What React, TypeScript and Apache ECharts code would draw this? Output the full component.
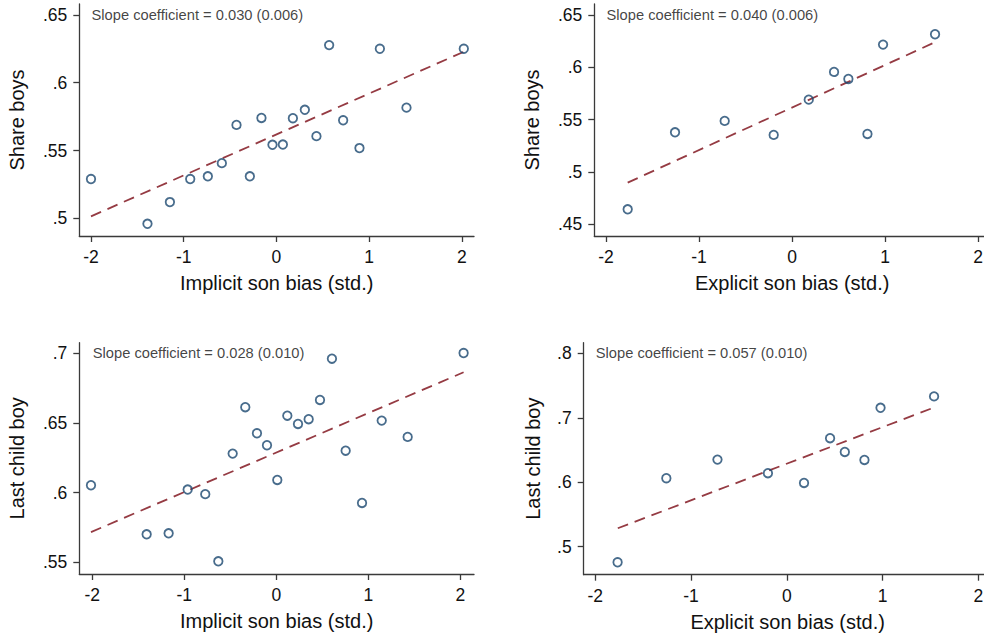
import React, { useEffect, useRef } from "react";
import * as echarts from "echarts";

// ---- data ----
const xTicks = [-2, -1, 0, 1, 2];
const yTicksShare1 = [0.5, 0.55, 0.6, 0.65];
const yTicksShare2 = [0.45, 0.5, 0.55, 0.6, 0.65];
const yTicksLast1 = [0.55, 0.6, 0.65, 0.7];
const yTicksLast2 = [0.5, 0.6, 0.7, 0.8];

const implicitX1 = [-2.0, -1.391, -1.149, -0.93, -0.74, -0.589, -0.431, -0.287, -0.162, -0.043, 0.069, 0.177, 0.306, 0.431, 0.568, 0.719, 0.895, 1.115, 1.402, 2.02];
const shareBoysImplicit = [0.529, 0.496, 0.512, 0.529, 0.531, 0.5407, 0.5689, 0.531, 0.574, 0.5542, 0.5544, 0.5738, 0.58, 0.5606, 0.6277, 0.5723, 0.5518, 0.625, 0.5816, 0.625];

const explicitX = [-1.767, -1.258, -0.724, -0.197, 0.18, 0.452, 0.606, 0.811, 0.979, 1.538];
const shareBoysExplicit = [0.4643, 0.5379, 0.5488, 0.5354, 0.5691, 0.5956, 0.5889, 0.5363, 0.6217, 0.6316];

const implicitX2 = [-2.014, -1.409, -1.17, -0.963, -0.772, -0.63, -0.474, -0.337, -0.21, -0.101, 0.011, 0.12, 0.236, 0.352, 0.475, 0.605, 0.754, 0.932, 1.146, 1.428, 2.036];
const lastBoyImplicit = [0.6053, 0.5701, 0.5708, 0.6022, 0.5989, 0.5507, 0.628, 0.6613, 0.6426, 0.634, 0.6091, 0.6552, 0.6493, 0.6527, 0.6665, 0.6961, 0.6301, 0.5926, 0.6517, 0.64, 0.7002];

const lastBoyExplicit = [0.4758, 0.6062, 0.6351, 0.614, 0.5989, 0.6683, 0.647, 0.6346, 0.7155, 0.7332];

const fitShareImplicit = [[-2.0, 0.5015], [2.02, 0.6228]];
const fitShareExplicit = [[-1.767, 0.4898], [1.538, 0.624]];
const fitLastImplicit = [[-2.014, 0.5717], [2.036, 0.6864]];
const fitLastExplicit = [[-1.765, 0.5286], [1.538, 0.716]];

const slopeTexts = [
  "Slope coefficient = 0.030 (0.006)",
  "Slope coefficient = 0.040 (0.006)",
  "Slope coefficient = 0.028 (0.010)",
  "Slope coefficient = 0.057 (0.010)",
];
const xTitles = ["Implicit son bias (std.)", "Explicit son bias (std.)", "Implicit son bias (std.)", "Explicit son bias (std.)"];
const yTitles = ["Share boys", "Share boys", "Last child boy", "Last child boy"];

const FONT = "'Liberation Sans', Arial, sans-serif";
const TXT = "#111";
const AXIS = "#3a3a3a";
const NAVY = "#1a476f";
const MAROON = "#953b43";

const fmtY = (v: number) => {
  const s = parseFloat(v.toFixed(2)).toString();
  return s.replace(/^(-?)0\./, "$1.");
};

export default function App() {
  const ref = useRef<HTMLDivElement>(null);
  useEffect(() => {
    if (!ref.current) return;
    const chart = echarts.init(ref.current, null, { renderer: "svg" });

    const panels = [
      { grid: { left: 79.3, top: 4, width: 394.7, height: 232 }, x: [-2.126, 2.13], y: [0.487, 0.658], yt: yTicksShare1, xs: implicitX1, ys: shareBoysImplicit, fit: fitShareImplicit, ng: 52 },
      { grid: { left: 594.3, top: 4, width: 395.8, height: 232 }, x: [-2.126, 2.13], y: [0.4388, 0.6605], yt: yTicksShare2, xs: explicitX, ys: shareBoysExplicit, fit: fitShareExplicit, ng: 52 },
      { grid: { left: 79.3, top: 342.7, width: 394.7, height: 231.3 }, x: [-2.141, 2.149], y: [0.5416, 0.7076], yt: yTicksLast1, xs: implicitX2, ys: lastBoyImplicit, fit: fitLastImplicit, ng: 52 },
      { grid: { left: 583.7, top: 342.7, width: 407.9, height: 232 }, x: [-2.121, 2.139], y: [0.4565, 0.8165], yt: yTicksLast2, xs: explicitX, ys: lastBoyExplicit, fit: fitLastExplicit, ng: 41 },
    ];

    const grid: any[] = [];
    const xAxis: any[] = [];
    const yAxis: any[] = [];
    const series: any[] = [];

    panels.forEach((p, i) => {
      grid.push({ ...p.grid, containLabel: false });
      xAxis.push({
        type: "value",
        gridIndex: i,
        min: p.x[0],
        max: p.x[1],
        name: xTitles[i],
        nameLocation: "middle",
        nameGap: 37,
        nameTextStyle: { fontFamily: FONT, fontSize: 20, color: TXT },
        axisLine: { show: true, onZero: false, lineStyle: { color: AXIS, width: 1.3 } },
        axisTick: { show: true, length: 6, customValues: xTicks, lineStyle: { color: AXIS, width: 1.3 } },
        axisLabel: { customValues: xTicks, margin: 12, fontFamily: FONT, fontSize: 17.5, color: TXT, formatter: (v: number) => String(v) },
        splitLine: { show: false },
      });
      yAxis.push({
        type: "value",
        gridIndex: i,
        min: p.y[0],
        max: p.y[1],
        name: yTitles[i],
        nameLocation: "middle",
        nameGap: p.ng,
        nameRotate: 90,
        nameTextStyle: { fontFamily: FONT, fontSize: 20, color: TXT },
        axisLine: { show: true, onZero: false, lineStyle: { color: AXIS, width: 1.3 } },
        axisTick: { show: true, length: 6, customValues: p.yt, lineStyle: { color: AXIS, width: 1.3 } },
        axisLabel: { customValues: p.yt, margin: 12, fontFamily: FONT, fontSize: 17.5, color: TXT, formatter: fmtY },
        splitLine: { show: false },
      });
      series.push({
        type: "line",
        xAxisIndex: i,
        yAxisIndex: i,
        data: p.fit,
        symbol: "none",
        lineStyle: { color: MAROON, width: 1.8, type: [11, 7] },
        z: 2,
      });
      series.push({
        type: "scatter",
        xAxisIndex: i,
        yAxisIndex: i,
        data: p.xs.map((x, k) => [x, p.ys[k]]),
        symbol: "circle",
        symbolSize: 8.5,
        itemStyle: { color: "rgba(0,0,0,0)", borderColor: NAVY, borderWidth: 1.8 },
        clip: false,
        z: 3,
      });
      series.push({
        type: "scatter",
        xAxisIndex: i,
        yAxisIndex: i,
        data: [[-2, p.yt[p.yt.length - 1]]],
        symbol: "circle",
        symbolSize: 1,
        itemStyle: { color: "rgba(0,0,0,0)", borderWidth: 0 },
        silent: true,
        label: {
          show: true,
          position: "right",
          distance: 0,
          formatter: slopeTexts[i],
          fontFamily: FONT,
          fontSize: 14.7,
          color: TXT,
        },
        z: 4,
      });
    });

    chart.setOption({
      animation: false,
      backgroundColor: "#fff",
      grid,
      xAxis,
      yAxis,
      series,
    });
    return () => chart.dispose();
  }, []);

  return (
    <div style={{ position: "fixed", left: 0, top: 0, width: 984, height: 636, overflow: "hidden", background: "#fff" }}>
      <div ref={ref} style={{ width: 1000, height: 636 }} />
    </div>
  );
}
